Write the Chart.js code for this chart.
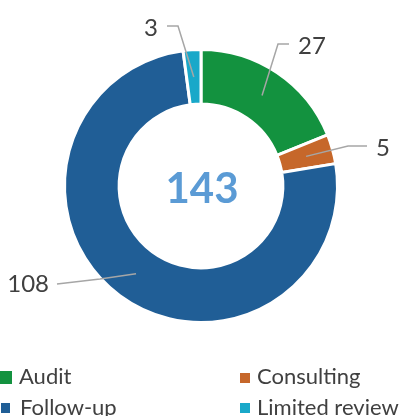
<!DOCTYPE html>
<html>
<head>
<meta charset="utf-8">
<script src="https://cdn.jsdelivr.net/npm/chart.js@4.4.0/dist/chart.umd.min.js"></script>
<style>
html,body{margin:0;padding:0;background:#fff;}
#wrap{width:401px;height:416px;position:relative;}
</style>
</head>
<body>
<div id="wrap"><canvas id="c" width="401" height="416"></canvas></div>
<script>
const categories = ["Audit", "Consulting", "Follow-up", "Limited review"];
const values = [27, 5, 108, 3];
const colors = ["#13923F", "#C6672A", "#205E96", "#19A8C9"];
const totalLabel = "143";

// label layout (relative to the doughnut centre): elbow, line end, text anchor, alignment
const labelLayout = [
  {elbow:[77,-142], end:[88,-142], text:[97,-140], align:"left"},
  {elbow:[147,-40], end:[166,-40], text:[175,-38], align:"left"},
  {elbow:[-101,93], end:[-144,98], text:[-152,98], align:"right"},
  {elbow:[-23,-160], end:[-34,-160], text:[-43,-158], align:"right"}
];
const legendLayout = [
  {box:[0,371,12,13], text:[19,377]},
  {box:[240,373,10,10], text:[257,377]},
  {box:[1,403,9,10], text:[20,408]},
  {box:[240,403,10,10], text:[257,408]}
];

const FONT = "Lato, 'Open Sans', sans-serif";

const overlay = {
  id: 'overlay',
  afterDraw(chart) {
    const ctx = chart.ctx;
    const meta = chart.getDatasetMeta(0);
    ctx.save();
    let cx = 0, cy = 0;
    meta.data.forEach((el, i) => {
      const p = el.getProps(['x','y','startAngle','endAngle','innerRadius','outerRadius'], true);
      cx = p.x; cy = p.y;
      const a = (p.startAngle + p.endAngle) / 2;
      const r = (p.innerRadius + p.outerRadius) / 2;
      const ax = p.x + Math.cos(a) * r, ay = p.y + Math.sin(a) * r;
      const L = labelLayout[i];
      ctx.strokeStyle = "#A6A6A6";
      ctx.lineWidth = 1.5;
      ctx.beginPath();
      ctx.moveTo(ax, ay);
      ctx.lineTo(p.x + L.elbow[0], p.y + L.elbow[1]);
      ctx.lineTo(p.x + L.end[0], p.y + L.end[1]);
      ctx.stroke();
      ctx.fillStyle = "#404040";
      ctx.font = "24px " + FONT;
      ctx.textAlign = L.align;
      ctx.textBaseline = "middle";
      ctx.fillText(String(chart.data.datasets[0].data[i]), p.x + L.text[0], p.y + L.text[1]);
    });
    // centre total
    ctx.fillStyle = "#5B9BD5";
    ctx.font = "bold 42px " + FONT;
    ctx.textAlign = "center";
    ctx.textBaseline = "middle";
    ctx.fillText(totalLabel, cx + 1, cy + 3);
    // legend
    chart.data.labels.forEach((lab, i) => {
      const g = legendLayout[i];
      ctx.fillStyle = chart.data.datasets[0].backgroundColor[i];
      ctx.fillRect(g.box[0], g.box[1], g.box[2], g.box[3]);
      ctx.fillStyle = "#404040";
      ctx.font = "22px " + FONT;
      ctx.textAlign = "left";
      ctx.textBaseline = "middle";
      ctx.fillText(lab, g.text[0], g.text[1]);
    });
    ctx.restore();
  }
};

new Chart(document.getElementById('c'), {
  type: 'doughnut',
  data: {
    labels: categories,
    datasets: [{
      data: values,
      backgroundColor: colors,
      borderColor: "#ffffff",
      borderWidth: 3,
      hoverOffset: 0
    }]
  },
  options: {
    responsive: false,
    animation: false,
    cutout: '60%',
    layout: { padding: { top: 48, bottom: 92, left: 63, right: 62 } },
    plugins: { legend: { display: false }, tooltip: { enabled: false } }
  },
  plugins: [overlay]
});
</script>
</body>
</html>
